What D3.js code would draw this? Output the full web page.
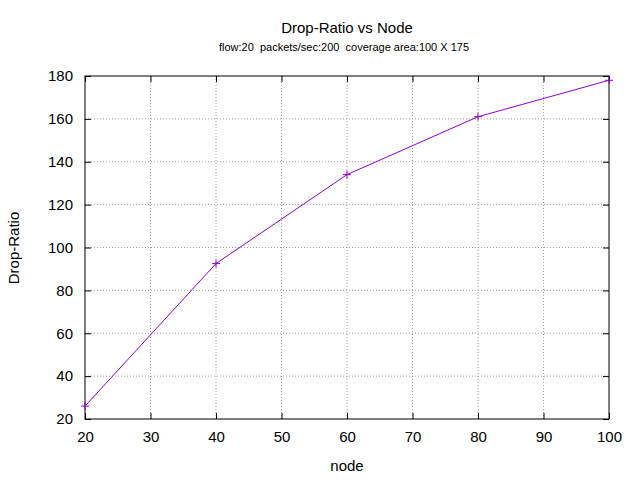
<!DOCTYPE html>
<html><head><meta charset="utf-8">
<script src="https://cdn.jsdelivr.net/npm/d3@7.9.0/dist/d3.min.js"></script>
<style>body{margin:0;background:#fff}text{font-family:"Liberation Sans",Arial,sans-serif}</style>
</head><body>
<svg id="chart" width="640" height="480"></svg>
<script>
// data
const nodes = [20, 40, 60, 80, 100];
const dropRatio = [26, 92.5, 134, 161, 178];
const xTicks = [20, 30, 40, 50, 60, 70, 80, 90, 100];
const yTicks = [20, 40, 60, 80, 100, 120, 140, 160, 180];

const svg = d3.select("#chart");
const mLeft = 85, mRight = 609, mTop = 76, mBottom = 419;

const x = d3.scaleLinear().domain([20, 100]).range([mLeft, mRight]);
const y = d3.scaleLinear().domain([20, 180]).range([mBottom, mTop]);

// grid
const grid = svg.append("g").attr("stroke", "#a0a0a0").attr("stroke-dasharray", "1,2").attr("stroke-width", 1);
xTicks.slice(1, -1).forEach(t => grid.append("line").attr("x1", x(t)).attr("x2", x(t)).attr("y1", mTop).attr("y2", mBottom));
yTicks.slice(1, -1).forEach(t => grid.append("line").attr("x1", mLeft).attr("x2", mRight).attr("y1", y(t)).attr("y2", y(t)));

// axes with mirrored inward ticks
const tk = 6;
svg.append("g").attr("transform", `translate(0,${mBottom})`).call(d3.axisBottom(x).tickValues(xTicks).tickSizeInner(-tk).tickSizeOuter(0).tickPadding(12));
svg.append("g").attr("transform", `translate(0,${mTop})`).call(d3.axisTop(x).tickValues(xTicks).tickSizeInner(-tk).tickSizeOuter(0).tickFormat(""));
svg.append("g").attr("transform", `translate(${mLeft},0)`).call(d3.axisLeft(y).tickValues(yTicks).tickSizeInner(-tk).tickSizeOuter(0).tickPadding(12));
svg.append("g").attr("transform", `translate(${mRight},0)`).call(d3.axisRight(y).tickValues(yTicks).tickSizeInner(-tk).tickSizeOuter(0).tickFormat(""));
svg.selectAll(".domain").remove();
svg.selectAll(".tick text").attr("font-size", 15).attr("fill", "#000").style("font-family", "Liberation Sans, Arial, sans-serif");
svg.append("rect").attr("x", mLeft).attr("y", mTop).attr("width", mRight - mLeft).attr("height", mBottom - mTop)
  .attr("fill", "none").attr("stroke", "#000");

// line
const pts = nodes.map((n, i) => [n, dropRatio[i]]);
svg.append("path").datum(pts).attr("fill", "none").attr("stroke", "#9400d3").attr("stroke-width", 1)
  .attr("d", d3.line().x(d => x(d[0])).y(d => y(d[1])));
svg.append("g").selectAll("path").data(pts).join("path")
  .attr("d", d => `M${x(d[0]) - 4},${y(d[1])}h8M${x(d[0])},${y(d[1]) - 4}v8`)
  .attr("stroke", "#9400d3").attr("stroke-width", 1);

// titles
svg.append("text").attr("x", 347).attr("y", 33).attr("text-anchor", "middle").attr("font-size", 15).text("Drop-Ratio vs Node");
svg.append("text").attr("x", 344).attr("y", 51).attr("text-anchor", "middle").attr("font-size", 11).attr("xml:space", "preserve")
  .text("flow:20  packets/sec:200  coverage area:100 X 175");
svg.append("text").attr("x", 347).attr("y", 471).attr("text-anchor", "middle").attr("font-size", 15).text("node");
svg.append("text").attr("transform", "translate(19,248) rotate(-90)").attr("text-anchor", "middle").attr("font-size", 15).text("Drop-Ratio");
</script>
</body></html>
